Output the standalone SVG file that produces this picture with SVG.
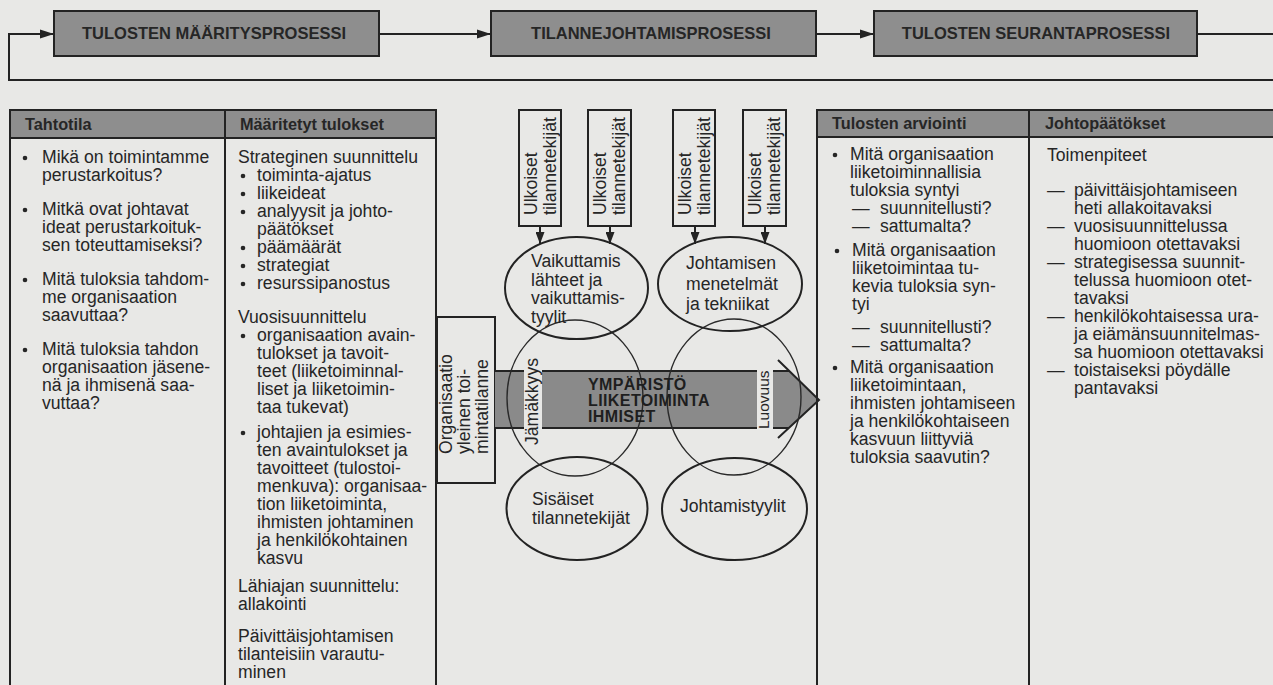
<svg xmlns="http://www.w3.org/2000/svg" width="1273" height="685" viewBox="0 0 1273 685">
<defs>
<style>
.t{font-family:"Liberation Sans",Arial,sans-serif;font-size:17.6px;fill:#262626}
.hd{font-family:"Liberation Sans",Arial,sans-serif;font-size:16.3px;font-weight:bold;fill:#262626}
.cap{font-family:"Liberation Sans",Arial,sans-serif;font-size:16.5px;font-weight:bold;fill:#262626}
.bd{font-family:"Liberation Sans",Arial,sans-serif;font-size:16px;font-weight:bold;letter-spacing:0.4px;fill:#1e1e1e}
.ln{stroke:#232323;stroke-width:2;fill:none}
.thin{stroke:#2a2a2a;stroke-width:1.4;fill:none}
.box{fill:#8e8e8e;stroke:#232323;stroke-width:2}
.wbox{fill:#e8e8e6;stroke:#232323;stroke-width:2}
.dot{fill:#262626}
</style>
<marker id="ah" viewBox="0 0 14 10" refX="14" refY="5" markerWidth="14" markerHeight="10" markerUnits="userSpaceOnUse" orient="auto">
<path d="M0,0.5 L14,5 L0,9.5 Z" fill="#232323"/>
</marker>
<marker id="ahs" viewBox="0 0 12 9" refX="12" refY="4.5" markerWidth="12" markerHeight="9" markerUnits="userSpaceOnUse" orient="auto">
<path d="M0,0 L12,4.5 L0,9 Z" fill="#232323"/>
</marker>
</defs>
<rect x="0" y="0" width="1273" height="685" fill="#e8e8e6"/>

<g id="connectors">
<path class="ln" d="M1273,80 H9 V34 H54" marker-end="url(#ah)"/>
<path class="ln" d="M379,34 H491" marker-end="url(#ah)"/>
<path class="ln" d="M816,34 H874" marker-end="url(#ah)"/>
<path class="ln" d="M1197,34 H1273"/>
<path class="ln" d="M540,226 V244" marker-end="url(#ahs)"/>
<path class="ln" d="M610,226 V244" marker-end="url(#ahs)"/>
<path class="ln" d="M695,226 V244" marker-end="url(#ahs)"/>
<path class="ln" d="M765,226 V244" marker-end="url(#ahs)"/>
</g>

<g id="p1">
<rect class="box" x="54" y="11" width="325" height="45"/>
<text class="cap" x="214" y="39" text-anchor="middle">TULOSTEN MÄÄRITYSPROSESSI</text>
</g>
<g id="p2">
<rect class="box" x="491" y="11" width="325" height="45"/>
<text class="cap" x="651" y="39" text-anchor="middle">TILANNEJOHTAMISPROSESSI</text>
</g>
<g id="p3">
<rect class="box" x="874" y="11" width="323" height="45"/>
<text class="cap" x="1036" y="39" text-anchor="middle">TULOSTEN SEURANTAPROSESSI</text>
</g>

<g id="col-tahtotila">
<rect class="box" x="10" y="110" width="215" height="28"/>
<path class="ln" d="M10,138 V686"/>
<text class="hd" x="25" y="130">Tahtotila</text>
<circle class="dot" cx="25" cy="158" r="2.3"/>
<circle class="dot" cx="25" cy="210" r="2.3"/>
<circle class="dot" cx="25" cy="280" r="2.3"/>
<circle class="dot" cx="25" cy="350" r="2.3"/>
<text class="t">
<tspan x="42" y="163">Mikä on toimintamme</tspan>
<tspan x="42" y="181">perustarkoitus?</tspan>
<tspan x="42" y="215">Mitkä ovat johtavat</tspan>
<tspan x="42" y="233">ideat perustarkoituk-</tspan>
<tspan x="42" y="251">sen toteuttamiseksi?</tspan>
<tspan x="42" y="285">Mitä tuloksia tahdom-</tspan>
<tspan x="42" y="303">me organisaation</tspan>
<tspan x="42" y="321">saavuttaa?</tspan>
<tspan x="42" y="355">Mitä tuloksia tahdon</tspan>
<tspan x="42" y="373">organisaation jäsene-</tspan>
<tspan x="42" y="391">nä ja ihmisenä saa-</tspan>
<tspan x="42" y="409">vuttaa?</tspan>
</text>
</g>

<g id="col-maaritetyt">
<rect class="box" x="225" y="110" width="211" height="28"/>
<path class="ln" d="M225,138 V686 M436,138 V686"/>
<text class="hd" x="240" y="130">Määritetyt tulokset</text>
<circle class="dot" cx="243" cy="176" r="2.3"/>
<circle class="dot" cx="243" cy="194" r="2.3"/>
<circle class="dot" cx="243" cy="212" r="2.3"/>
<circle class="dot" cx="243" cy="248" r="2.3"/>
<circle class="dot" cx="243" cy="266" r="2.3"/>
<circle class="dot" cx="243" cy="284" r="2.3"/>
<circle class="dot" cx="243" cy="336" r="2.3"/>
<circle class="dot" cx="243" cy="433" r="2.3"/>
<text class="t">
<tspan x="238" y="163">Strateginen suunnittelu</tspan>
<tspan x="257" y="181">toiminta-ajatus</tspan>
<tspan x="257" y="199">liikeideat</tspan>
<tspan x="257" y="217">analyysit ja johto-</tspan>
<tspan x="257" y="235">päätökset</tspan>
<tspan x="257" y="253">päämäärät</tspan>
<tspan x="257" y="271">strategiat</tspan>
<tspan x="257" y="289">resurssipanostus</tspan>
<tspan x="238" y="323">Vuosisuunnittelu</tspan>
<tspan x="257" y="341">organisaation avain-</tspan>
<tspan x="257" y="359">tulokset ja tavoit-</tspan>
<tspan x="257" y="377">teet (liiketoiminnal-</tspan>
<tspan x="257" y="395">liset ja liiketoimin-</tspan>
<tspan x="257" y="413">taa tukevat)</tspan>
<tspan x="257" y="438">johtajien ja esimies-</tspan>
<tspan x="257" y="456">ten avaintulokset ja</tspan>
<tspan x="257" y="474">tavoitteet (tulostoi-</tspan>
<tspan x="257" y="492">menkuva): organisaa-</tspan>
<tspan x="257" y="510">tion liiketoiminta,</tspan>
<tspan x="257" y="528">ihmisten johtaminen</tspan>
<tspan x="257" y="546">ja henkilökohtainen</tspan>
<tspan x="257" y="564">kasvu</tspan>
<tspan x="238" y="592">Lähiajan suunnittelu:</tspan>
<tspan x="238" y="610">allakointi</tspan>
<tspan x="238" y="642">Päivittäisjohtamisen</tspan>
<tspan x="238" y="660">tilanteisiin varautu-</tspan>
<tspan x="238" y="678">minen</tspan>
</text>
</g>

<g id="organisaatio">
<rect class="wbox" x="437" y="317" width="58" height="166"/>
<text class="t" transform="translate(452,454) rotate(-90)">
<tspan x="0" y="0">Organisaatio</tspan>
<tspan x="0" y="18">yleinen toi-</tspan>
<tspan x="0" y="36">mintatilanne</tspan>
</text>
</g>

<g id="band">
<path d="M495,371 H789 L819,400 L789,428 H495 Z" fill="#8a8a8a"/>
<path class="ln" d="M495,371 H789 M495,428 H789"/>
<path class="ln" d="M778,360 L819,400 L778,438"/>
<rect x="524" y="367" width="18" height="66" fill="#e8e8e6"/>
<rect x="757" y="367" width="16" height="66" fill="#e8e8e6"/>
<text class="t" transform="translate(538,445) rotate(-90)">Jämäkkyys</text>
<text class="t" style="font-size:15.5px" transform="translate(769,429) rotate(-90)">Luovuus</text>
</g>

<g id="circle-left"><ellipse class="thin" cx="575" cy="398" rx="68" ry="78"/></g>
<g id="circle-right"><ellipse class="thin" cx="734" cy="397" rx="67" ry="78"/></g>

<g id="band-text">
<text class="bd">
<tspan x="588" y="389.5">YMPÄRISTÖ</tspan>
<tspan x="588" y="406">LIIKETOIMINTA</tspan>
<tspan x="588" y="422">IHMISET</tspan>
</text>
</g>

<g id="ulk1">
<rect class="wbox" x="519" y="110" width="42" height="116"/>
<text class="t" transform="translate(537,215) rotate(-90)"><tspan x="0" y="0">Ulkoiset</tspan><tspan x="0" y="19">tilannetekijät</tspan></text>
</g>
<g id="ulk2">
<rect class="wbox" x="588" y="110" width="43" height="116"/>
<text class="t" transform="translate(606,215) rotate(-90)"><tspan x="0" y="0">Ulkoiset</tspan><tspan x="0" y="19">tilannetekijät</tspan></text>
</g>
<g id="ulk3">
<rect class="wbox" x="673" y="110" width="42" height="116"/>
<text class="t" transform="translate(691,215) rotate(-90)"><tspan x="0" y="0">Ulkoiset</tspan><tspan x="0" y="19">tilannetekijät</tspan></text>
</g>
<g id="ulk4">
<rect class="wbox" x="743" y="110" width="43" height="116"/>
<text class="t" transform="translate(761,215) rotate(-90)"><tspan x="0" y="0">Ulkoiset</tspan><tspan x="0" y="19">tilannetekijät</tspan></text>
</g>

<g id="vaikuttamis">
<ellipse class="ln" stroke-width="2.2" cx="576.5" cy="288" rx="71.5" ry="51"/>
<text class="t"><tspan x="531" y="267">Vaikuttamis</tspan><tspan x="531" y="285.5">lähteet ja</tspan><tspan x="531" y="304">vaikuttamis-</tspan><tspan x="531" y="323">tyylit</tspan></text>
</g>
<g id="menetelmat">
<ellipse class="ln" stroke-width="2.2" cx="730" cy="284" rx="72" ry="47"/>
<text class="t"><tspan x="686" y="269">Johtamisen</tspan><tspan x="686" y="290">menetelmät</tspan><tspan x="686" y="310">ja tekniikat</tspan></text>
</g>
<g id="sisaiset">
<ellipse class="ln" stroke-width="2.2" cx="577" cy="508.5" rx="70.5" ry="51.5"/>
<text class="t"><tspan x="532" y="505">Sisäiset</tspan><tspan x="532" y="524">tilannetekijät</tspan></text>
</g>
<g id="johtamistyylit">
<ellipse class="ln" stroke-width="2.2" cx="734.5" cy="509" rx="72.5" ry="51"/>
<text class="t" x="680" y="512">Johtamistyylit</text>
</g>

<g id="col-arviointi">
<rect class="box" x="817" y="110" width="212" height="27"/>
<path class="ln" d="M817,137 V686 M1029,137 V686"/>
<text class="hd" x="832" y="129">Tulosten arviointi</text>
<circle class="dot" cx="835" cy="155" r="2.3"/>
<circle class="dot" cx="837" cy="251" r="2.3"/>
<circle class="dot" cx="835" cy="368" r="2.3"/>
<text class="t">
<tspan x="850" y="160">Mitä organisaation</tspan>
<tspan x="850" y="178">liiketoiminnallisia</tspan>
<tspan x="850" y="196">tuloksia syntyi</tspan>
<tspan x="852" y="214">—</tspan><tspan x="880" y="214">suunnitellusti?</tspan>
<tspan x="852" y="232">—</tspan><tspan x="880" y="232">sattumalta?</tspan>
<tspan x="852" y="256">Mitä organisaation</tspan>
<tspan x="852" y="274">liiketoimintaa tu-</tspan>
<tspan x="852" y="292">kevia tuloksia syn-</tspan>
<tspan x="852" y="310">tyi</tspan>
<tspan x="852" y="333">—</tspan><tspan x="880" y="333">suunnitellusti?</tspan>
<tspan x="852" y="351">—</tspan><tspan x="880" y="351">sattumalta?</tspan>
<tspan x="850" y="373">Mitä organisaation</tspan>
<tspan x="850" y="391">liiketoimintaan,</tspan>
<tspan x="850" y="409">ihmisten johtamiseen</tspan>
<tspan x="850" y="427">ja henkilökohtaiseen</tspan>
<tspan x="850" y="445">kasvuun liittyviä</tspan>
<tspan x="850" y="463">tuloksia saavutin?</tspan>
</text>
</g>

<g id="col-johtopaatokset">
<rect class="box" x="1029" y="110" width="246" height="27"/>
<text class="hd" x="1045" y="129">Johtopäätökset</text>
<text class="t">
<tspan x="1047" y="161">Toimenpiteet</tspan>
<tspan x="1047" y="196">—</tspan><tspan x="1074" y="196">päivittäisjohtamiseen</tspan>
<tspan x="1074" y="214">heti allakoitavaksi</tspan>
<tspan x="1047" y="232">—</tspan><tspan x="1074" y="232">vuosisuunnittelussa</tspan>
<tspan x="1074" y="250">huomioon otettavaksi</tspan>
<tspan x="1047" y="268">—</tspan><tspan x="1074" y="268">strategisessa suunnit-</tspan>
<tspan x="1074" y="286">telussa huomioon otet-</tspan>
<tspan x="1074" y="304">tavaksi</tspan>
<tspan x="1047" y="322">—</tspan><tspan x="1074" y="322">henkilökohtaisessa ura-</tspan>
<tspan x="1074" y="340">ja eiämänsuunnitelmas-</tspan>
<tspan x="1074" y="358">sa huomioon otettavaksi</tspan>
<tspan x="1047" y="376">—</tspan><tspan x="1074" y="376">toistaiseksi pöydälle</tspan>
<tspan x="1074" y="394">pantavaksi</tspan>
</text>
</g>
</svg>
